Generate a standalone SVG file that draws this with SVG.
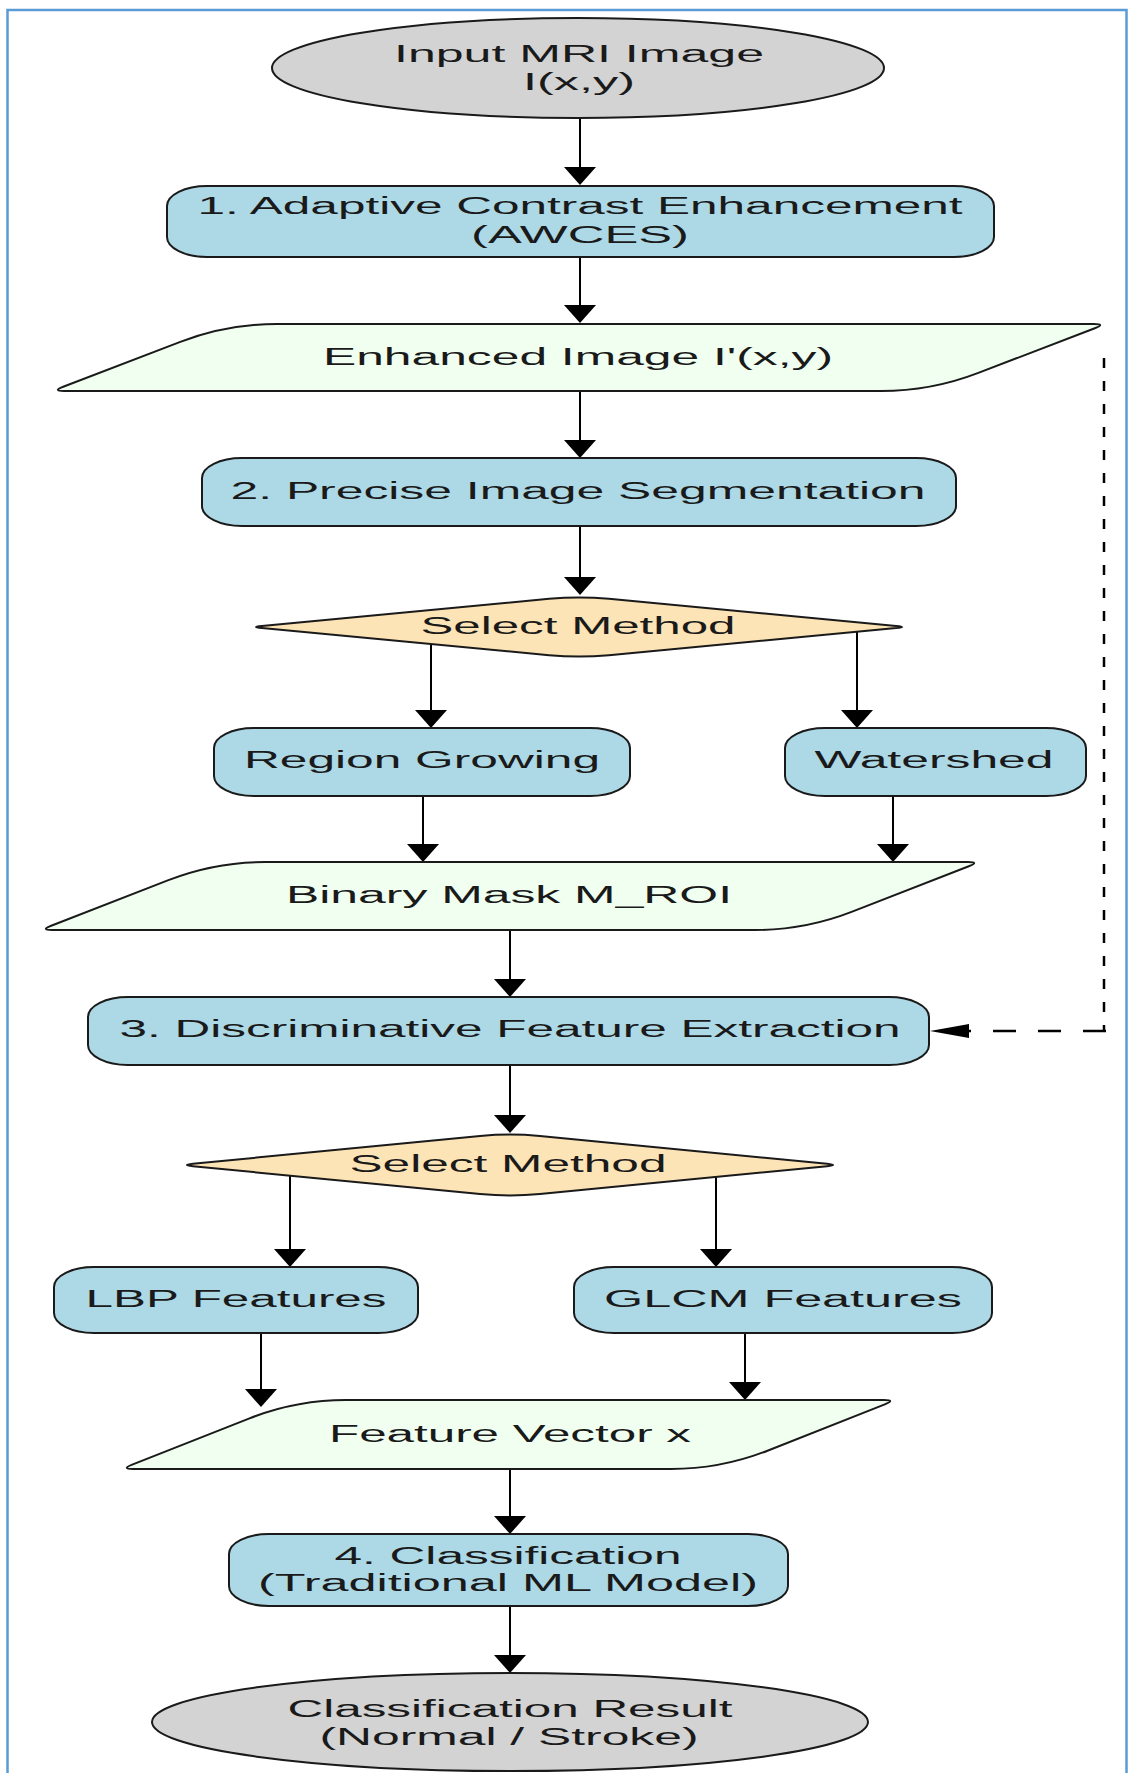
<svg xmlns="http://www.w3.org/2000/svg" width="1129" height="1773" viewBox="0 0 1129 1773">
<style>
.t{font-family:"Liberation Sans",Arial,sans-serif;font-size:23px;fill:#1a1a1a;text-anchor:middle}
.proc{fill:#add8e6;stroke:#1a1a1a;stroke-width:2}
.term{fill:#d3d3d3;stroke:#1a1a1a;stroke-width:2}
.data{fill:#f0fff0;stroke:#1a1a1a;stroke-width:2}
.dec{fill:#fde4b6;stroke:#1a1a1a;stroke-width:2}
.e{fill:none;stroke:#000;stroke-width:2;marker-end:url(#ah)}
.d{fill:none;stroke:#000;stroke-width:2.5}
</style>
<defs>
<marker id="ah" markerUnits="userSpaceOnUse" viewBox="0 0 18 32" markerWidth="18" markerHeight="32" refX="0" refY="16" orient="auto"><path d="M0,0 L18,16 L0,32 Z" fill="#000"/></marker>
<marker id="ahh" markerUnits="userSpaceOnUse" viewBox="0 0 39 14" markerWidth="39" markerHeight="14" refX="0" refY="7" orient="auto"><path d="M0,0 L39,7 L0,14 Z" fill="#000"/></marker>
</defs>
<rect x="7.5" y="10" width="1119" height="1800" fill="#fff" stroke="#5b9bd5" stroke-width="2.5"/>

<g id="connectors">
<path class="e" d="M580,118 V167"/>
<path class="e" d="M580,257 V305"/>
<path class="e" d="M580,391 V440"/>
<path class="e" d="M580,526 V577"/>
<path class="e" d="M431,645 V710"/>
<path class="e" d="M857,632 V710"/>
<path class="e" d="M423,796 V844"/>
<path class="e" d="M893,796 V844"/>
<path class="e" d="M510,930 V979"/>
<path class="e" d="M510,1065 V1115"/>
<path class="e" d="M290,1176 V1249"/>
<path class="e" d="M716,1177 V1249"/>
<path class="e" d="M261,1333 V1389"/>
<path class="e" d="M745,1333 V1382"/>
<path class="e" d="M510,1469 V1516"/>
<path class="e" d="M510,1606 V1655"/>
<path class="d" d="M1104,358 V1031" stroke-dasharray="10 13"/>
<path class="d" d="M1106,1031 H969" stroke-dasharray="23 22" style="marker-end:url(#ahh)"/>
</g>

<g id="n_input">
<ellipse class="term" cx="578" cy="68" rx="306" ry="50"/>
<text class="t" x="579" y="62" textLength="370" lengthAdjust="spacingAndGlyphs">Input MRI Image</text>
<text class="t" x="579" y="90" textLength="112" lengthAdjust="spacingAndGlyphs">I(x,y)</text>
</g>

<g id="n_ace">
<rect class="proc" x="167" y="186" width="827" height="71" rx="40" ry="20"/>
<text class="t" x="580" y="214" textLength="765" lengthAdjust="spacingAndGlyphs">1. Adaptive Contrast Enhancement</text>
<text class="t" x="580" y="243" textLength="218" lengthAdjust="spacingAndGlyphs">(AWCES)</text>
</g>

<g id="n_enh">
<path class="data" d="M277,324 L1094,324 Q1106,324 1094.8,328.3 L977.7,373.1 Q931,391 881,391 L64,391 Q52,391 63.2,386.7 L180.3,341.9 Q227,324 277,324 Z"/>
<text class="t" x="578" y="365" textLength="510" lengthAdjust="spacingAndGlyphs">Enhanced Image I'(x,y)</text>
</g>

<g id="n_seg">
<rect class="proc" x="202" y="458" width="754" height="68" rx="40" ry="20"/>
<text class="t" x="578" y="499" textLength="695" lengthAdjust="spacingAndGlyphs">2. Precise Image Segmentation</text>
</g>

<g id="n_sel1">
<path class="dec" d="M608.9,598.8 L896.1,625.9 Q908,627 896.1,628.1 L608.9,655.2 Q579,658 549.1,655.2 L261.9,628.1 Q250,627 261.9,625.9 L549.1,598.8 Q579,596 608.9,598.8 Z"/>
<text class="t" x="578" y="634" textLength="315" lengthAdjust="spacingAndGlyphs">Select Method</text>
</g>

<g id="n_rg">
<rect class="proc" x="214" y="728" width="416" height="68" rx="40" ry="20"/>
<text class="t" x="422" y="768" textLength="356" lengthAdjust="spacingAndGlyphs">Region Growing</text>
</g>

<g id="n_ws">
<rect class="proc" x="785" y="728" width="301" height="68" rx="40" ry="20"/>
<text class="t" x="934" y="768" textLength="239" lengthAdjust="spacingAndGlyphs">Watershed</text>
</g>

<g id="n_mask">
<path class="data" d="M265,862 L968,862 Q980,862 968.8,866.3 L851.6,911.9 Q805,930 755,930 L52,930 Q40,930 51.2,925.7 L168.4,880.1 Q215,862 265,862 Z"/>
<text class="t" x="509" y="903" textLength="446" lengthAdjust="spacingAndGlyphs">Binary Mask M_ROI</text>
</g>

<g id="n_fe">
<rect class="proc" x="88" y="997" width="841" height="68" rx="40" ry="20"/>
<text class="t" x="510" y="1037" textLength="781" lengthAdjust="spacingAndGlyphs">3. Discriminative Feature Extraction</text>
</g>

<g id="n_sel2">
<path class="dec" d="M539.9,1135.9 L827.1,1163.8 Q839,1165 827.1,1166.2 L539.9,1194.1 Q510,1197 480.1,1194.1 L192.9,1166.2 Q181,1165 192.9,1163.8 L480.1,1135.9 Q510,1133 539.9,1135.9 Z"/>
<text class="t" x="508" y="1172" textLength="317" lengthAdjust="spacingAndGlyphs">Select Method</text>
</g>

<g id="n_lbp">
<rect class="proc" x="54" y="1267" width="364" height="66" rx="40" ry="20"/>
<text class="t" x="236" y="1307" textLength="301" lengthAdjust="spacingAndGlyphs">LBP Features</text>
</g>

<g id="n_glcm">
<rect class="proc" x="574" y="1267" width="418" height="66" rx="40" ry="20"/>
<text class="t" x="783" y="1307" textLength="358" lengthAdjust="spacingAndGlyphs">GLCM Features</text>
</g>

<g id="n_fv">
<path class="data" d="M346,1400 L884,1400 Q896,1400 884.8,1404.4 L767.5,1450.7 Q721,1469 671,1469 L133,1469 Q121,1469 132.2,1464.6 L249.5,1418.35 Q296,1400 346,1400 Z"/>
<text class="t" x="510" y="1442" textLength="362" lengthAdjust="spacingAndGlyphs">Feature Vector x</text>
</g>

<g id="n_cls">
<rect class="proc" x="229" y="1534" width="559" height="72" rx="40" ry="20"/>
<text class="t" x="508" y="1564" textLength="347" lengthAdjust="spacingAndGlyphs">4. Classification</text>
<text class="t" x="508" y="1591" textLength="500" lengthAdjust="spacingAndGlyphs">(Traditional ML Model)</text>
</g>

<g id="n_result">
<ellipse class="term" cx="510" cy="1722" rx="358" ry="49"/>
<text class="t" x="510" y="1717" textLength="445" lengthAdjust="spacingAndGlyphs">Classification Result</text>
<text class="t" x="509" y="1745" textLength="379" lengthAdjust="spacingAndGlyphs">(Normal / Stroke)</text>
</g>
</svg>
